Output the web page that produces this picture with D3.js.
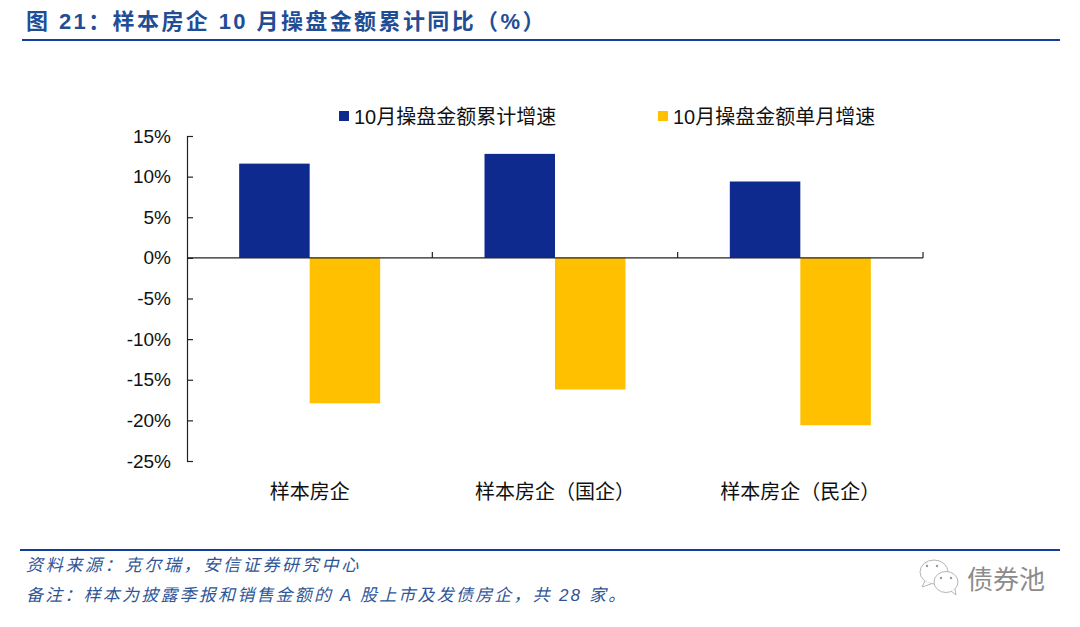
<!DOCTYPE html>
<html>
<head>
<meta charset="utf-8">
<script src="https://cdn.jsdelivr.net/npm/d3@7"></script>
<style>
  html, body { margin: 0; padding: 0; background: #fff; }
  text { font-family: "Liberation Sans", "Noto Sans CJK SC", sans-serif; }
</style>
</head>
<body>
<div id="chartArea"></div>
<script>
const categories = ["样本房企", "样本房企（国企）", "样本房企（民企）"];
const seriesNames = ["10月操盘金额累计增速", "10月操盘金额单月增速"];
const cumulative = [11.6, 12.8, 9.4];
const monthly = [-17.9, -16.2, -20.6];
const yTicks = [15, 10, 5, 0, -5, -10, -15, -20, -25];

const blue = "#0e2a8e";
const yellow = "#ffc000";
const ruleBlue = "#123f9c";
const titleBlue = "#1f4e96";
const axisColor = "#222";

const svg = d3.select("#chartArea").append("svg")
  .attr("width", 1080)
  .attr("height", 627)
  .style("display", "block");

// header and footer rules
svg.append("rect").attr("x", 22).attr("y", 39).attr("width", 1038).attr("height", 2).attr("fill", ruleBlue);
svg.append("rect").attr("x", 20).attr("y", 549).attr("width", 1040).attr("height", 2).attr("fill", ruleBlue);

svg.append("text")
  .attr("x", 26).attr("y", 29)
  .attr("font-size", 22).attr("font-weight", "bold")
  .attr("fill", titleBlue).attr("letter-spacing", 2.4)
  .text("图 21：样本房企 10 月操盘金额累计同比（%）");

const x = d3.scaleBand().domain(categories).range([187, 923]);
const y = d3.scaleLinear().domain([-25, 15]).range([461, 136]);
const barW = 70.5;

// bars
const groups = svg.selectAll("g.cat")
  .data(categories)
  .enter().append("g")
  .attr("class", "cat")
  .attr("transform", d => `translate(${x(d) + x.bandwidth() / 2},0)`);

groups.append("rect")
  .attr("x", -barW)
  .attr("width", barW)
  .attr("y", (d, i) => y(cumulative[i]))
  .attr("height", (d, i) => y(0) - y(cumulative[i]))
  .attr("fill", blue);

groups.append("rect")
  .attr("x", 0)
  .attr("width", barW)
  .attr("y", y(0))
  .attr("height", (d, i) => y(monthly[i]) - y(0))
  .attr("fill", yellow);

// y axis, ticks point into the plot
const yAxis = svg.append("g")
  .attr("transform", "translate(187,0)")
  .call(d3.axisLeft(y).tickValues(yTicks).tickSize(-6).tickPadding(16).tickFormat(d => d + "%"));
yAxis.selectAll("path").attr("stroke", axisColor).attr("stroke-width", 1.2);
yAxis.selectAll("line").attr("stroke", axisColor).attr("stroke-width", 1.2);
yAxis.selectAll("text")
  .attr("font-size", 19).attr("fill", "#111")
  .style("font-family", '"Liberation Sans", sans-serif');

// zero line with category separators pointing up
svg.append("line")
  .attr("x1", 187).attr("x2", 923)
  .attr("y1", y(0)).attr("y2", y(0))
  .attr("stroke", axisColor).attr("stroke-width", 1.2);
svg.selectAll("line.sep")
  .data(categories)
  .enter().append("line")
  .attr("class", "sep")
  .attr("x1", d => x(d) + x.bandwidth())
  .attr("x2", d => x(d) + x.bandwidth())
  .attr("y1", y(0)).attr("y2", y(0) - 6)
  .attr("stroke", axisColor).attr("stroke-width", 1.2);

// category labels
svg.selectAll("text.cat-label")
  .data(categories)
  .enter().append("text")
  .attr("class", "cat-label")
  .attr("x", d => x(d) + x.bandwidth() / 2)
  .attr("y", 499)
  .attr("text-anchor", "middle")
  .attr("font-size", 20).attr("fill", "#111")
  .text(d => d);

// legend
const legendX = [339, 658];
const legendColors = [blue, yellow];
seriesNames.forEach((name, i) => {
  svg.append("rect")
    .attr("x", legendX[i]).attr("y", 111)
    .attr("width", 10).attr("height", 10)
    .attr("fill", legendColors[i]);
  svg.append("text")
    .attr("x", legendX[i] + 15).attr("y", 124)
    .attr("font-size", 20).attr("fill", "#111")
    .text(name);
});

// footer notes
svg.append("text")
  .attr("x", 26).attr("y", 571)
  .attr("font-size", 17).attr("font-style", "italic")
  .attr("fill", "#2f5597").attr("letter-spacing", 2.7)
  .text("资料来源：克尔瑞，安信证券研究中心");
svg.append("text")
  .attr("x", 26).attr("y", 601)
  .attr("font-size", 17).attr("font-style", "italic")
  .attr("fill", "#2f5597").attr("letter-spacing", 2.2)
  .text("备注：样本为披露季报和销售金额的 A 股上市及发债房企，共 28 家。");

// watermark
const wm = svg.append("g").attr("fill", "#fff").attr("stroke", "#b5b5b5").attr("stroke-width", 1);
wm.append("ellipse").attr("cx", 934).attr("cy", 572).attr("rx", 14).attr("ry", 12);
wm.append("path").attr("d", "M925 581 L922 587 L931 584");
wm.append("ellipse").attr("cx", 946).attr("cy", 582).attr("rx", 12).attr("ry", 10.5);
wm.append("path").attr("d", "M951 591 L956 595 L955 589");
[[927, 566], [937, 566], [941, 578], [951, 578]].forEach(p => {
  svg.append("circle").attr("cx", p[0]).attr("cy", p[1]).attr("r", 1.2).attr("fill", "#999");
});
svg.append("text")
  .attr("x", 967).attr("y", 589)
  .attr("font-size", 26).attr("fill", "#8c8c8c")
  .text("债券池");
</script>
</body>
</html>
